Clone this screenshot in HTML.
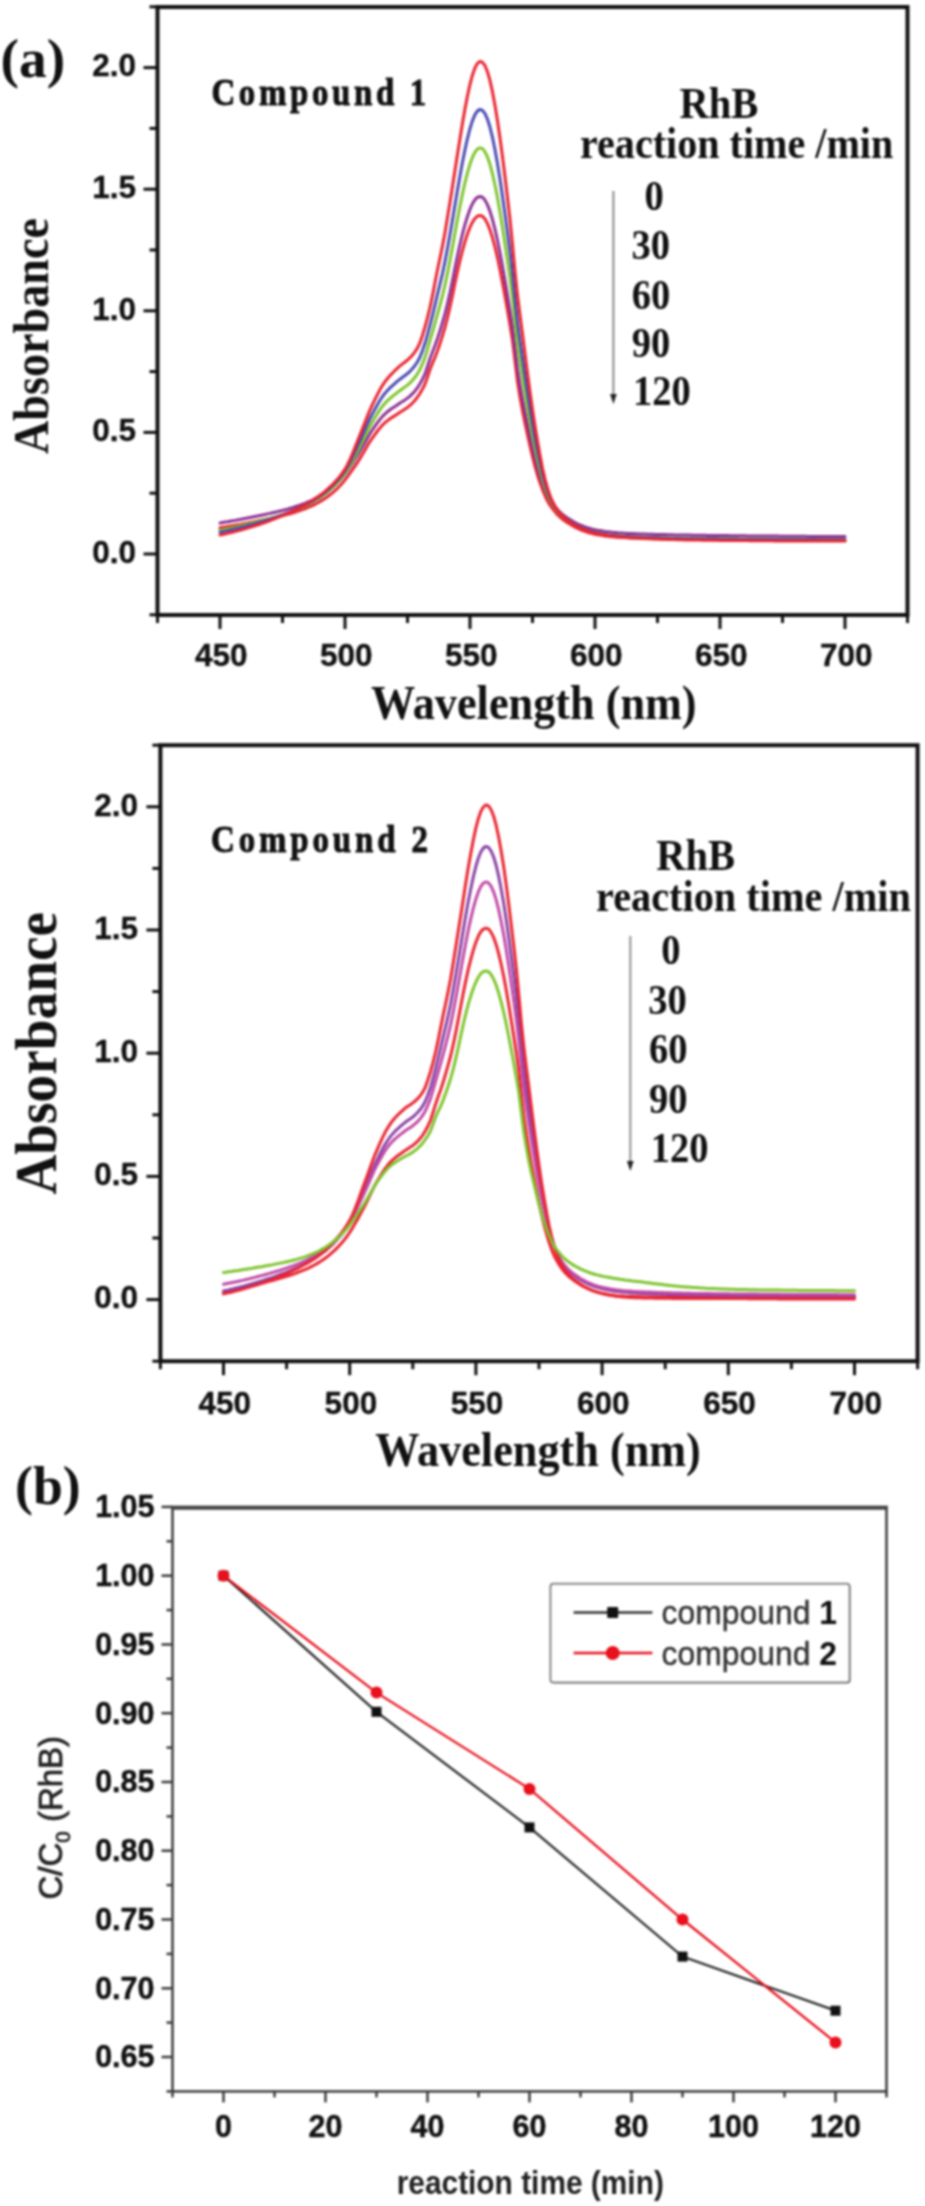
<!DOCTYPE html>
<html><head><meta charset="utf-8">
<style>
html,body{margin:0;padding:0;background:#fff;}
body{width:925px;height:2206px;overflow:hidden;}
svg{display:block;}
#wrap{filter:blur(0.8px);width:925px;height:2206px;}
.tl{font-family:"Liberation Sans",sans-serif;font-weight:bold;font-size:31.5px;fill:#111;stroke:#111;stroke-width:0.35px;}
.tb{font-family:"Liberation Sans",sans-serif;font-weight:bold;font-size:30.5px;fill:#111;stroke:#111;stroke-width:0.4px;}
.ser{font-family:"Liberation Serif",serif;font-weight:bold;fill:#111;}
.sans{font-family:"Liberation Sans",sans-serif;}
.curves path{fill:none;stroke-width:3;stroke-linejoin:round;stroke-linecap:round;}
</style></head>
<body>
<div id="wrap">
<svg width="925" height="2206" viewBox="0 0 925 2206">
<rect width="925" height="2206" fill="#fff"/>
<rect x="157.5" y="7.0" width="750.0" height="608.0" fill="none" stroke="#111" stroke-width="4"/>
<line x1="149.5" y1="614.8" x2="157.5" y2="614.8" stroke="#111" stroke-width="3"/>
<line x1="143.5" y1="554.0" x2="157.5" y2="554.0" stroke="#111" stroke-width="3"/>
<text x="136.0" y="562.8" class="tl" text-anchor="end">0.0</text>
<line x1="149.5" y1="493.2" x2="157.5" y2="493.2" stroke="#111" stroke-width="3"/>
<line x1="143.5" y1="432.4" x2="157.5" y2="432.4" stroke="#111" stroke-width="3"/>
<text x="136.0" y="441.2" class="tl" text-anchor="end">0.5</text>
<line x1="149.5" y1="371.6" x2="157.5" y2="371.6" stroke="#111" stroke-width="3"/>
<line x1="143.5" y1="310.8" x2="157.5" y2="310.8" stroke="#111" stroke-width="3"/>
<text x="136.0" y="319.6" class="tl" text-anchor="end">1.0</text>
<line x1="149.5" y1="250.0" x2="157.5" y2="250.0" stroke="#111" stroke-width="3"/>
<line x1="143.5" y1="189.2" x2="157.5" y2="189.2" stroke="#111" stroke-width="3"/>
<text x="136.0" y="198.0" class="tl" text-anchor="end">1.5</text>
<line x1="149.5" y1="128.4" x2="157.5" y2="128.4" stroke="#111" stroke-width="3"/>
<line x1="143.5" y1="67.6" x2="157.5" y2="67.6" stroke="#111" stroke-width="3"/>
<text x="136.0" y="76.4" class="tl" text-anchor="end">2.0</text>
<line x1="149.5" y1="6.8" x2="157.5" y2="6.8" stroke="#111" stroke-width="3"/>
<line x1="157.5" y1="615.0" x2="157.5" y2="623.0" stroke="#111" stroke-width="3"/>
<line x1="220.0" y1="615.0" x2="220.0" y2="629.0" stroke="#111" stroke-width="3"/>
<text x="221.2" y="665.5" class="tl" text-anchor="middle">450</text>
<line x1="282.5" y1="615.0" x2="282.5" y2="623.0" stroke="#111" stroke-width="3"/>
<line x1="345.0" y1="615.0" x2="345.0" y2="629.0" stroke="#111" stroke-width="3"/>
<text x="346.2" y="665.5" class="tl" text-anchor="middle">500</text>
<line x1="407.5" y1="615.0" x2="407.5" y2="623.0" stroke="#111" stroke-width="3"/>
<line x1="470.0" y1="615.0" x2="470.0" y2="629.0" stroke="#111" stroke-width="3"/>
<text x="471.2" y="665.5" class="tl" text-anchor="middle">550</text>
<line x1="532.5" y1="615.0" x2="532.5" y2="623.0" stroke="#111" stroke-width="3"/>
<line x1="595.0" y1="615.0" x2="595.0" y2="629.0" stroke="#111" stroke-width="3"/>
<text x="596.2" y="665.5" class="tl" text-anchor="middle">600</text>
<line x1="657.5" y1="615.0" x2="657.5" y2="623.0" stroke="#111" stroke-width="3"/>
<line x1="720.0" y1="615.0" x2="720.0" y2="629.0" stroke="#111" stroke-width="3"/>
<text x="721.2" y="665.5" class="tl" text-anchor="middle">650</text>
<line x1="782.5" y1="615.0" x2="782.5" y2="623.0" stroke="#111" stroke-width="3"/>
<line x1="845.0" y1="615.0" x2="845.0" y2="629.0" stroke="#111" stroke-width="3"/>
<text x="846.2" y="665.5" class="tl" text-anchor="middle">700</text>
<line x1="907.5" y1="615.0" x2="907.5" y2="623.0" stroke="#111" stroke-width="3"/>
<g class="curves">
<path d="M220.0 527.7L222.5 527.3L225.0 526.9L227.5 526.5L230.0 526.1L232.5 525.7L235.0 525.3L237.5 524.8L240.0 524.4L242.5 523.9L245.0 523.4L247.5 523.0L250.0 522.5L252.5 522.0L255.0 521.5L257.5 521.0L260.0 520.5L262.5 520.0L265.0 519.5L267.5 519.0L270.0 518.5L272.5 517.9L275.0 517.4L277.5 516.8L280.0 516.2L282.5 515.6L285.0 515.0L287.5 514.4L290.0 513.7L292.5 513.0L295.0 512.2L297.5 511.4L300.0 510.6L302.5 509.7L305.0 508.8L307.5 507.7L310.0 506.7L312.5 505.6L315.0 504.3L317.5 503.0L320.0 501.6L322.5 500.1L325.0 498.4L327.5 496.7L330.0 494.8L332.5 492.8L335.0 490.6L337.5 488.3L340.0 485.8L342.5 483.0L345.0 479.9L347.5 476.6L350.0 473.2L352.5 469.7L355.0 466.1L357.5 462.4L360.0 458.5L362.5 454.3L365.0 449.9L367.5 445.6L370.0 441.5L372.5 437.9L375.0 434.4L377.5 431.0L380.0 427.9L382.5 425.0L385.0 422.6L387.5 420.6L390.0 418.8L392.5 417.1L395.0 415.6L397.5 413.9L400.0 412.2L402.5 410.7L405.0 409.1L407.5 407.4L410.0 405.4L412.5 403.0L415.0 400.3L417.5 397.0L420.0 393.3L422.5 389.1L425.0 384.0L427.5 376.9L430.0 369.5L432.5 363.2L435.0 357.3L437.5 350.7L440.0 343.4L442.5 335.6L445.0 327.2L447.5 317.7L450.0 307.0L452.5 295.5L455.0 283.0L457.5 271.3L460.0 260.4L462.5 250.5L465.0 241.5L467.5 233.8L470.0 227.2L472.5 222.1L475.0 218.3L477.5 216.0L480.0 215.5L482.5 216.2L485.0 219.0L487.5 223.6L490.0 229.9L492.5 237.8L495.0 247.1L497.5 257.8L500.0 269.7L502.5 282.6L505.0 296.2L507.5 310.4L510.0 324.8L512.5 340.4L515.0 361.0L517.5 381.5L520.0 397.1L522.5 410.8L525.0 423.2L527.5 434.8L530.0 445.9L532.5 456.6L535.0 466.4L537.5 475.2L540.0 482.8L542.5 489.6L545.0 495.8L547.5 501.0L550.0 505.1L552.5 508.6L555.0 511.8L557.5 514.7L560.0 517.1L562.5 519.2L565.0 521.0L567.5 522.7L570.0 524.3L572.5 525.8L575.0 527.2L577.5 528.4L580.0 529.5L582.5 530.5L585.0 531.4L587.5 532.3L590.0 533.0L592.5 533.6L595.0 534.2L597.5 534.7L600.0 535.1L602.5 535.5L605.0 535.9L607.5 536.2L610.0 536.5L612.5 536.7L615.0 537.0L617.5 537.2L620.0 537.3L622.5 537.5L625.0 537.6L627.5 537.7L630.0 537.9L632.5 538.0L635.0 538.1L637.5 538.1L640.0 538.2L642.5 538.3L645.0 538.4L647.5 538.5L650.0 538.6L652.5 538.6L655.0 538.7L657.5 538.8L660.0 538.8L662.5 538.9L665.0 538.9L667.5 539.0L670.0 539.0L672.5 539.1L675.0 539.1L677.5 539.2L680.0 539.2L682.5 539.3L685.0 539.3L687.5 539.3L690.0 539.4L692.5 539.4L695.0 539.5L697.5 539.5L700.0 539.5L702.5 539.5L705.0 539.6L707.5 539.6L710.0 539.6L712.5 539.7L715.0 539.7L717.5 539.7L720.0 539.8L722.5 539.8L725.0 539.8L727.5 539.8L730.0 539.9L732.5 539.9L735.0 539.9L737.5 539.9L740.0 540.0L742.5 540.0L745.0 540.0L747.5 540.1L750.0 540.1L752.5 540.1L755.0 540.1L757.5 540.1L760.0 540.2L762.5 540.2L765.0 540.2L767.5 540.2L770.0 540.3L772.5 540.3L775.0 540.3L777.5 540.3L780.0 540.3L782.5 540.4L785.0 540.4L787.5 540.4L790.0 540.4L792.5 540.4L795.0 540.4L797.5 540.5L800.0 540.5L802.5 540.5L805.0 540.5L807.5 540.5L810.0 540.5L812.5 540.5L815.0 540.5L817.5 540.6L820.0 540.6L822.5 540.6L825.0 540.6L827.5 540.6L830.0 540.6L832.5 540.6L835.0 540.6L837.5 540.6L840.0 540.6L842.5 540.6L845.0 540.6" stroke="#ea2430"/>
<path d="M220.0 522.9L222.5 522.5L225.0 522.1L227.5 521.7L230.0 521.2L232.5 520.8L235.0 520.4L237.5 519.9L240.0 519.5L242.5 519.0L245.0 518.5L247.5 518.0L250.0 517.5L252.5 517.0L255.0 516.5L257.5 516.0L260.0 515.5L262.5 515.0L265.0 514.5L267.5 513.9L270.0 513.4L272.5 512.8L275.0 512.2L277.5 511.6L280.0 511.0L282.5 510.4L285.0 509.7L287.5 509.1L290.0 508.3L292.5 507.6L295.0 506.8L297.5 506.0L300.0 505.1L302.5 504.2L305.0 503.3L307.5 502.2L310.0 501.1L312.5 500.0L315.0 498.7L317.5 497.4L320.0 495.9L322.5 494.4L325.0 492.7L327.5 490.9L330.0 489.0L332.5 486.9L335.0 484.8L337.5 482.4L340.0 479.8L342.5 477.0L345.0 473.9L347.5 470.5L350.0 466.9L352.5 463.1L355.0 459.3L357.5 455.4L360.0 451.3L362.5 446.9L365.0 442.4L367.5 437.9L370.0 433.6L372.5 429.8L375.0 426.2L377.5 422.7L380.0 419.4L382.5 416.4L385.0 413.9L387.5 411.7L390.0 409.8L392.5 408.1L395.0 406.5L397.5 404.8L400.0 403.0L402.5 401.5L405.0 399.9L407.5 398.1L410.0 396.1L412.5 393.7L415.0 390.9L417.5 387.6L420.0 383.8L422.5 379.2L425.0 373.9L427.5 366.5L430.0 358.8L432.5 352.1L435.0 345.5L437.5 338.4L440.0 330.7L442.5 322.5L445.0 313.6L447.5 303.7L450.0 292.5L452.5 280.6L455.0 267.8L457.5 255.7L460.0 244.3L462.5 233.9L465.0 224.4L467.5 216.2L470.0 209.2L472.5 203.7L475.0 199.6L477.5 197.2L480.0 196.5L482.5 197.2L485.0 200.1L487.5 204.9L490.0 211.4L492.5 219.6L495.0 229.3L497.5 240.5L500.0 252.9L502.5 266.3L505.0 280.5L507.5 295.3L510.0 310.5L512.5 326.9L515.0 348.2L517.5 369.0L520.0 385.0L522.5 399.2L525.0 412.3L527.5 424.6L530.0 436.5L532.5 447.7L535.0 458.2L537.5 467.5L540.0 475.7L542.5 483.2L545.0 489.7L547.5 495.3L550.0 499.7L552.5 503.5L555.0 506.8L557.5 509.8L560.0 512.2L562.5 514.4L565.0 516.3L567.5 518.0L570.0 519.6L572.5 521.1L575.0 522.5L577.5 523.8L580.0 524.9L582.5 525.9L585.0 526.9L587.5 527.7L590.0 528.4L592.5 529.1L595.0 529.7L597.5 530.2L600.0 530.6L602.5 531.0L605.0 531.4L607.5 531.7L610.0 532.0L612.5 532.3L615.0 532.5L617.5 532.8L620.0 532.9L622.5 533.1L625.0 533.2L627.5 533.4L630.0 533.5L632.5 533.6L635.0 533.7L637.5 533.8L640.0 533.9L642.5 534.0L645.0 534.1L647.5 534.2L650.0 534.2L652.5 534.3L655.0 534.4L657.5 534.5L660.0 534.5L662.5 534.6L665.0 534.6L667.5 534.7L670.0 534.8L672.5 534.8L675.0 534.9L677.5 534.9L680.0 535.0L682.5 535.0L685.0 535.1L687.5 535.1L690.0 535.1L692.5 535.2L695.0 535.2L697.5 535.2L700.0 535.3L702.5 535.3L705.0 535.3L707.5 535.4L710.0 535.4L712.5 535.4L715.0 535.5L717.5 535.5L720.0 535.5L722.5 535.6L725.0 535.6L727.5 535.6L730.0 535.7L732.5 535.7L735.0 535.7L737.5 535.7L740.0 535.8L742.5 535.8L745.0 535.8L747.5 535.9L750.0 535.9L752.5 535.9L755.0 535.9L757.5 536.0L760.0 536.0L762.5 536.0L765.0 536.0L767.5 536.1L770.0 536.1L772.5 536.1L775.0 536.1L777.5 536.1L780.0 536.2L782.5 536.2L785.0 536.2L787.5 536.2L790.0 536.2L792.5 536.3L795.0 536.3L797.5 536.3L800.0 536.3L802.5 536.3L805.0 536.3L807.5 536.4L810.0 536.4L812.5 536.4L815.0 536.4L817.5 536.4L820.0 536.4L822.5 536.4L825.0 536.4L827.5 536.4L830.0 536.5L832.5 536.5L835.0 536.5L837.5 536.5L840.0 536.5L842.5 536.5L845.0 536.5" stroke="#8e3194"/>
<path d="M220.0 530.2L222.5 529.7L225.0 529.2L227.5 528.7L230.0 528.2L232.5 527.7L235.0 527.1L237.5 526.6L240.0 526.0L242.5 525.5L245.0 524.9L247.5 524.3L250.0 523.7L252.5 523.0L255.0 522.4L257.5 521.8L260.0 521.1L262.5 520.5L265.0 519.8L267.5 519.1L270.0 518.4L272.5 517.7L275.0 517.0L277.5 516.2L280.0 515.4L282.5 514.6L285.0 513.8L287.5 513.0L290.0 512.1L292.5 511.2L295.0 510.2L297.5 509.2L300.0 508.2L302.5 507.1L305.0 506.0L307.5 504.8L310.0 503.5L312.5 502.2L315.0 500.8L317.5 499.3L320.0 497.7L322.5 495.9L325.0 494.1L327.5 492.1L330.0 490.0L332.5 487.7L335.0 485.4L337.5 482.8L340.0 480.0L342.5 476.8L345.0 473.4L347.5 469.6L350.0 465.4L352.5 460.9L355.0 456.2L357.5 451.5L360.0 446.7L362.5 441.6L365.0 436.3L367.5 431.1L370.0 426.2L372.5 421.7L375.0 417.5L377.5 413.4L380.0 409.6L382.5 406.2L385.0 403.2L387.5 400.6L390.0 398.4L392.5 396.3L395.0 394.4L397.5 392.4L400.0 390.5L402.5 388.7L405.0 386.9L407.5 385.1L410.0 382.9L412.5 380.3L415.0 377.3L417.5 373.7L420.0 369.3L422.5 363.7L425.0 357.3L427.5 349.1L430.0 340.4L432.5 332.0L435.0 323.2L437.5 314.2L440.0 305.1L442.5 295.5L445.0 284.9L447.5 273.1L450.0 260.3L452.5 246.9L455.0 232.7L457.5 219.0L460.0 206.0L462.5 193.7L465.0 182.5L467.5 172.6L470.0 164.1L472.5 157.2L475.0 152.1L477.5 148.9L480.0 147.9L482.5 148.6L485.0 151.8L487.5 157.1L490.0 164.5L492.5 173.9L495.0 185.0L497.5 197.8L500.0 212.0L502.5 227.4L505.0 243.8L507.5 260.9L510.0 278.4L512.5 298.1L515.0 321.7L517.5 344.1L520.0 361.8L522.5 377.8L525.0 393.2L527.5 408.1L530.0 422.3L532.5 435.8L535.0 448.3L537.5 459.6L540.0 469.9L542.5 479.2L545.0 487.2L547.5 493.9L550.0 499.4L552.5 504.0L555.0 507.7L557.5 511.0L560.0 513.8L562.5 516.2L565.0 518.2L567.5 520.1L570.0 521.8L572.5 523.5L575.0 524.9L577.5 526.3L580.0 527.5L582.5 528.5L585.0 529.5L587.5 530.4L590.0 531.2L592.5 531.9L595.0 532.5L597.5 533.0L600.0 533.5L602.5 533.9L605.0 534.3L607.5 534.7L610.0 535.0L612.5 535.3L615.0 535.6L617.5 535.8L620.0 536.0L622.5 536.1L625.0 536.3L627.5 536.4L630.0 536.6L632.5 536.7L635.0 536.8L637.5 536.9L640.0 537.0L642.5 537.1L645.0 537.2L647.5 537.3L650.0 537.4L652.5 537.5L655.0 537.5L657.5 537.6L660.0 537.7L662.5 537.8L665.0 537.8L667.5 537.9L670.0 537.9L672.5 538.0L675.0 538.0L677.5 538.1L680.0 538.1L682.5 538.2L685.0 538.2L687.5 538.3L690.0 538.3L692.5 538.3L695.0 538.4L697.5 538.4L700.0 538.4L702.5 538.5L705.0 538.5L707.5 538.5L710.0 538.6L712.5 538.6L715.0 538.6L717.5 538.6L720.0 538.7L722.5 538.7L725.0 538.7L727.5 538.7L730.0 538.8L732.5 538.8L735.0 538.8L737.5 538.8L740.0 538.9L742.5 538.9L745.0 538.9L747.5 538.9L750.0 539.0L752.5 539.0L755.0 539.0L757.5 539.0L760.0 539.0L762.5 539.1L765.0 539.1L767.5 539.1L770.0 539.1L772.5 539.1L775.0 539.2L777.5 539.2L780.0 539.2L782.5 539.2L785.0 539.2L787.5 539.2L790.0 539.3L792.5 539.3L795.0 539.3L797.5 539.3L800.0 539.3L802.5 539.3L805.0 539.3L807.5 539.3L810.0 539.3L812.5 539.4L815.0 539.4L817.5 539.4L820.0 539.4L822.5 539.4L825.0 539.4L827.5 539.4L830.0 539.4L832.5 539.4L835.0 539.4L837.5 539.4L840.0 539.4L842.5 539.4L845.0 539.4" stroke="#7ec42e"/>
<path d="M220.0 532.1L222.5 531.6L225.0 531.1L227.5 530.6L230.0 530.0L232.5 529.5L235.0 528.9L237.5 528.3L240.0 527.7L242.5 527.0L245.0 526.4L247.5 525.7L250.0 525.0L252.5 524.4L255.0 523.7L257.5 522.9L260.0 522.2L262.5 521.5L265.0 520.7L267.5 519.9L270.0 519.1L272.5 518.3L275.0 517.5L277.5 516.6L280.0 515.7L282.5 514.8L285.0 513.9L287.5 512.9L290.0 511.9L292.5 510.9L295.0 509.9L297.5 508.8L300.0 507.6L302.5 506.5L305.0 505.2L307.5 503.9L310.0 502.6L312.5 501.2L315.0 499.6L317.5 498.0L320.0 496.3L322.5 494.5L325.0 492.6L327.5 490.5L330.0 488.3L332.5 485.9L335.0 483.4L337.5 480.8L340.0 477.8L342.5 474.6L345.0 471.0L347.5 466.9L350.0 462.3L352.5 457.2L355.0 451.8L357.5 446.4L360.0 441.1L362.5 435.4L365.0 429.6L367.5 423.9L370.0 418.5L372.5 413.6L375.0 409.0L377.5 404.5L380.0 400.3L382.5 396.5L385.0 393.2L387.5 390.4L390.0 387.9L392.5 385.6L395.0 383.4L397.5 381.2L400.0 379.2L402.5 377.3L405.0 375.5L407.5 373.5L410.0 371.3L412.5 368.6L415.0 365.5L417.5 361.7L420.0 357.0L422.5 350.6L425.0 343.3L427.5 334.7L430.0 325.2L432.5 315.4L435.0 304.8L437.5 294.2L440.0 283.9L442.5 273.3L445.0 261.4L447.5 248.2L450.0 234.3L452.5 219.8L455.0 204.7L457.5 190.0L460.0 175.7L462.5 162.1L465.0 149.6L467.5 138.3L470.0 128.5L472.5 120.6L475.0 114.6L477.5 110.9L480.0 109.4L482.5 110.3L485.0 113.6L487.5 119.3L490.0 127.3L492.5 137.5L495.0 149.7L497.5 163.7L500.0 179.3L502.5 196.2L505.0 214.1L507.5 232.9L510.0 252.2L512.5 274.3L515.0 299.5L517.5 322.7L520.0 341.4L522.5 358.7L525.0 376.0L527.5 392.9L530.0 408.9L532.5 424.2L535.0 438.4L537.5 451.3L540.0 463.3L542.5 474.1L545.0 483.3L547.5 491.0L550.0 497.4L552.5 502.6L555.0 506.6L557.5 510.2L560.0 513.1L562.5 515.6L565.0 517.8L567.5 519.8L570.0 521.6L572.5 523.2L575.0 524.8L577.5 526.1L580.0 527.4L582.5 528.5L585.0 529.5L587.5 530.4L590.0 531.2L592.5 531.9L595.0 532.5L597.5 533.1L600.0 533.6L602.5 534.1L605.0 534.5L607.5 534.9L610.0 535.2L612.5 535.5L615.0 535.8L617.5 536.0L620.0 536.2L622.5 536.4L625.0 536.6L627.5 536.7L630.0 536.9L632.5 537.0L635.0 537.1L637.5 537.2L640.0 537.3L642.5 537.5L645.0 537.6L647.5 537.7L650.0 537.8L652.5 537.8L655.0 537.9L657.5 538.0L660.0 538.1L662.5 538.2L665.0 538.3L667.5 538.3L670.0 538.4L672.5 538.4L675.0 538.5L677.5 538.6L680.0 538.6L682.5 538.7L685.0 538.7L687.5 538.8L690.0 538.8L692.5 538.8L695.0 538.9L697.5 538.9L700.0 538.9L702.5 539.0L705.0 539.0L707.5 539.0L710.0 539.1L712.5 539.1L715.0 539.1L717.5 539.1L720.0 539.2L722.5 539.2L725.0 539.2L727.5 539.2L730.0 539.3L732.5 539.3L735.0 539.3L737.5 539.3L740.0 539.4L742.5 539.4L745.0 539.4L747.5 539.4L750.0 539.5L752.5 539.5L755.0 539.5L757.5 539.5L760.0 539.5L762.5 539.6L765.0 539.6L767.5 539.6L770.0 539.6L772.5 539.6L775.0 539.6L777.5 539.7L780.0 539.7L782.5 539.7L785.0 539.7L787.5 539.7L790.0 539.7L792.5 539.8L795.0 539.8L797.5 539.8L800.0 539.8L802.5 539.8L805.0 539.8L807.5 539.8L810.0 539.8L812.5 539.8L815.0 539.8L817.5 539.9L820.0 539.9L822.5 539.9L825.0 539.9L827.5 539.9L830.0 539.9L832.5 539.9L835.0 539.9L837.5 539.9L840.0 539.9L842.5 539.9L845.0 539.9" stroke="#4a4bb4"/>
<path d="M220.0 535.0L222.5 534.5L225.0 534.0L227.5 533.4L230.0 532.8L232.5 532.2L235.0 531.6L237.5 530.9L240.0 530.2L242.5 529.6L245.0 528.8L247.5 528.1L250.0 527.4L252.5 526.6L255.0 525.8L257.5 525.0L260.0 524.2L262.5 523.3L265.0 522.5L267.5 521.6L270.0 520.6L272.5 519.7L275.0 518.7L277.5 517.7L280.0 516.7L282.5 515.6L285.0 514.5L287.5 513.4L290.0 512.3L292.5 511.2L295.0 510.0L297.5 508.8L300.0 507.5L302.5 506.2L305.0 504.9L307.5 503.5L310.0 502.0L312.5 500.5L315.0 498.8L317.5 497.1L320.0 495.3L322.5 493.4L325.0 491.4L327.5 489.2L330.0 486.9L332.5 484.5L335.0 481.9L337.5 479.1L340.0 476.1L342.5 472.7L345.0 469.0L347.5 464.7L350.0 459.4L352.5 453.5L355.0 447.3L357.5 441.0L360.0 434.9L362.5 428.6L365.0 422.2L367.5 415.9L370.0 409.9L372.5 404.4L375.0 399.3L377.5 394.3L380.0 389.6L382.5 385.3L385.0 381.7L387.5 378.5L390.0 375.6L392.5 373.0L395.0 370.5L397.5 368.1L400.0 365.9L402.5 363.9L405.0 362.0L407.5 360.0L410.0 357.7L412.5 355.0L415.0 351.8L417.5 347.9L420.0 342.7L422.5 335.2L425.0 326.9L427.5 317.7L430.0 307.4L432.5 295.6L435.0 282.5L437.5 269.8L440.0 258.0L442.5 245.9L445.0 232.4L447.5 217.3L450.0 202.1L452.5 186.3L455.0 170.3L457.5 154.2L460.0 138.4L462.5 123.1L465.0 108.8L467.5 95.7L470.0 84.3L472.5 74.9L475.0 67.8L477.5 63.3L480.0 61.3L482.5 62.3L485.0 65.7L487.5 71.9L490.0 80.7L492.5 91.9L495.0 105.4L497.5 120.9L500.0 138.1L502.5 156.8L505.0 176.8L507.5 197.7L510.0 219.3L512.5 244.7L515.0 271.6L517.5 295.5L520.0 315.3L522.5 334.1L525.0 353.8L527.5 373.5L530.0 392.0L532.5 409.6L535.0 426.0L537.5 440.9L540.0 455.3L542.5 468.3L545.0 479.1L547.5 488.0L550.0 495.6L552.5 501.6L555.0 506.1L557.5 509.9L560.0 513.0L562.5 515.7L565.0 518.1L567.5 520.1L570.0 522.0L572.5 523.7L575.0 525.2L577.5 526.6L580.0 527.8L582.5 529.0L585.0 530.0L587.5 530.9L590.0 531.8L592.5 532.5L595.0 533.1L597.5 533.7L600.0 534.3L602.5 534.8L605.0 535.2L607.5 535.6L610.0 536.0L612.5 536.3L615.0 536.6L617.5 536.8L620.0 537.0L622.5 537.2L625.0 537.4L627.5 537.6L630.0 537.7L632.5 537.9L635.0 538.0L637.5 538.2L640.0 538.3L642.5 538.4L645.0 538.5L647.5 538.7L650.0 538.8L652.5 538.9L655.0 539.0L657.5 539.1L660.0 539.2L662.5 539.3L665.0 539.3L667.5 539.4L670.0 539.5L672.5 539.6L675.0 539.6L677.5 539.7L680.0 539.8L682.5 539.8L685.0 539.9L687.5 539.9L690.0 540.0L692.5 540.0L695.0 540.0L697.5 540.1L700.0 540.1L702.5 540.2L705.0 540.2L707.5 540.2L710.0 540.2L712.5 540.3L715.0 540.3L717.5 540.3L720.0 540.4L722.5 540.4L725.0 540.4L727.5 540.4L730.0 540.5L732.5 540.5L735.0 540.5L737.5 540.5L740.0 540.6L742.5 540.6L745.0 540.6L747.5 540.6L750.0 540.7L752.5 540.7L755.0 540.7L757.5 540.7L760.0 540.7L762.5 540.8L765.0 540.8L767.5 540.8L770.0 540.8L772.5 540.8L775.0 540.9L777.5 540.9L780.0 540.9L782.5 540.9L785.0 540.9L787.5 540.9L790.0 540.9L792.5 541.0L795.0 541.0L797.5 541.0L800.0 541.0L802.5 541.0L805.0 541.0L807.5 541.0L810.0 541.0L812.5 541.1L815.0 541.1L817.5 541.1L820.0 541.1L822.5 541.1L825.0 541.1L827.5 541.1L830.0 541.1L832.5 541.1L835.0 541.1L837.5 541.1L840.0 541.1L842.5 541.1L845.0 541.1" stroke="#ea2430"/>
</g>
<line x1="613.4" y1="191" x2="613.4" y2="396" stroke="#888" stroke-width="2"/>
<path d="M610 394 L616.8 394 L613.4 404 Z" fill="#222"/>
<rect x="160.4" y="745.2" width="757.2" height="616.0" fill="none" stroke="#111" stroke-width="4"/>
<line x1="152.4" y1="1361.2" x2="160.4" y2="1361.2" stroke="#111" stroke-width="3"/>
<line x1="146.4" y1="1299.6" x2="160.4" y2="1299.6" stroke="#111" stroke-width="3"/>
<text x="138.0" y="1308.4" class="tl" text-anchor="end">0.0</text>
<line x1="152.4" y1="1238.0" x2="160.4" y2="1238.0" stroke="#111" stroke-width="3"/>
<line x1="146.4" y1="1176.4" x2="160.4" y2="1176.4" stroke="#111" stroke-width="3"/>
<text x="138.0" y="1185.2" class="tl" text-anchor="end">0.5</text>
<line x1="152.4" y1="1114.8" x2="160.4" y2="1114.8" stroke="#111" stroke-width="3"/>
<line x1="146.4" y1="1053.2" x2="160.4" y2="1053.2" stroke="#111" stroke-width="3"/>
<text x="138.0" y="1062.0" class="tl" text-anchor="end">1.0</text>
<line x1="152.4" y1="991.6" x2="160.4" y2="991.6" stroke="#111" stroke-width="3"/>
<line x1="146.4" y1="930.0" x2="160.4" y2="930.0" stroke="#111" stroke-width="3"/>
<text x="138.0" y="938.8" class="tl" text-anchor="end">1.5</text>
<line x1="152.4" y1="868.4" x2="160.4" y2="868.4" stroke="#111" stroke-width="3"/>
<line x1="146.4" y1="806.8" x2="160.4" y2="806.8" stroke="#111" stroke-width="3"/>
<text x="138.0" y="815.6" class="tl" text-anchor="end">2.0</text>
<line x1="152.4" y1="745.2" x2="160.4" y2="745.2" stroke="#111" stroke-width="3"/>
<line x1="160.4" y1="1361.2" x2="160.4" y2="1369.2" stroke="#111" stroke-width="3"/>
<line x1="223.5" y1="1361.2" x2="223.5" y2="1375.2" stroke="#111" stroke-width="3"/>
<text x="224.7" y="1413.5" class="tl" text-anchor="middle">450</text>
<line x1="286.6" y1="1361.2" x2="286.6" y2="1369.2" stroke="#111" stroke-width="3"/>
<line x1="349.7" y1="1361.2" x2="349.7" y2="1375.2" stroke="#111" stroke-width="3"/>
<text x="350.9" y="1413.5" class="tl" text-anchor="middle">500</text>
<line x1="412.8" y1="1361.2" x2="412.8" y2="1369.2" stroke="#111" stroke-width="3"/>
<line x1="475.9" y1="1361.2" x2="475.9" y2="1375.2" stroke="#111" stroke-width="3"/>
<text x="477.1" y="1413.5" class="tl" text-anchor="middle">550</text>
<line x1="539.0" y1="1361.2" x2="539.0" y2="1369.2" stroke="#111" stroke-width="3"/>
<line x1="602.1" y1="1361.2" x2="602.1" y2="1375.2" stroke="#111" stroke-width="3"/>
<text x="603.3" y="1413.5" class="tl" text-anchor="middle">600</text>
<line x1="665.2" y1="1361.2" x2="665.2" y2="1369.2" stroke="#111" stroke-width="3"/>
<line x1="728.3" y1="1361.2" x2="728.3" y2="1375.2" stroke="#111" stroke-width="3"/>
<text x="729.5" y="1413.5" class="tl" text-anchor="middle">650</text>
<line x1="791.4" y1="1361.2" x2="791.4" y2="1369.2" stroke="#111" stroke-width="3"/>
<line x1="854.5" y1="1361.2" x2="854.5" y2="1375.2" stroke="#111" stroke-width="3"/>
<text x="855.7" y="1413.5" class="tl" text-anchor="middle">700</text>
<line x1="917.6" y1="1361.2" x2="917.6" y2="1369.2" stroke="#111" stroke-width="3"/>
<g class="curves">
<path d="M223.5 1292.2L226.0 1291.7L228.5 1291.2L231.1 1290.6L233.6 1290.1L236.1 1289.5L238.6 1288.9L241.2 1288.3L243.7 1287.8L246.2 1287.2L248.7 1286.6L251.3 1285.9L253.8 1285.3L256.3 1284.7L258.8 1284.0L261.4 1283.4L263.9 1282.7L266.4 1282.1L268.9 1281.4L271.5 1280.7L274.0 1280.0L276.5 1279.3L279.0 1278.6L281.6 1277.9L284.1 1277.1L286.6 1276.3L289.1 1275.5L291.6 1274.7L294.2 1273.8L296.7 1272.9L299.2 1271.9L301.7 1270.9L304.3 1269.9L306.8 1268.8L309.3 1267.6L311.8 1266.3L314.4 1265.0L316.9 1263.6L319.4 1262.1L321.9 1260.5L324.5 1258.7L327.0 1256.9L329.5 1254.8L332.0 1252.7L334.6 1250.4L337.1 1247.9L339.6 1245.3L342.1 1242.5L344.7 1239.4L347.2 1236.0L349.7 1232.4L352.2 1228.4L354.7 1224.1L357.3 1219.7L359.8 1215.1L362.3 1210.5L364.8 1205.7L367.4 1200.6L369.9 1195.3L372.4 1190.1L374.9 1185.1L377.5 1180.7L380.0 1176.5L382.5 1172.4L385.0 1168.7L387.6 1165.3L390.1 1162.3L392.6 1159.9L395.1 1157.8L397.7 1155.8L400.2 1154.0L402.7 1152.2L405.2 1150.4L407.8 1148.7L410.3 1147.1L412.8 1145.4L415.3 1143.4L417.8 1141.0L420.4 1138.1L422.9 1134.8L425.4 1130.8L427.9 1126.0L430.5 1120.3L433.0 1112.5L435.5 1104.4L438.0 1097.1L440.6 1089.9L443.1 1082.2L445.6 1073.9L448.1 1065.2L450.7 1055.5L453.2 1044.7L455.7 1032.7L458.2 1019.8L460.8 1006.0L463.3 992.9L465.8 980.6L468.3 969.2L470.9 958.9L473.4 949.9L475.9 942.2L478.4 936.1L480.9 931.6L483.5 928.9L486.0 928.2L488.5 928.9L491.0 932.1L493.6 937.3L496.1 944.4L498.6 953.4L501.1 964.0L503.7 976.2L506.2 989.8L508.7 1004.4L511.2 1020.0L513.8 1036.3L516.3 1052.8L518.8 1071.0L521.3 1094.1L523.9 1116.6L526.4 1134.0L528.9 1149.5L531.4 1163.9L534.0 1177.5L536.5 1190.6L539.0 1203.0L541.5 1214.5L544.0 1224.9L546.6 1234.0L549.1 1242.3L551.6 1249.6L554.1 1255.7L556.7 1260.6L559.2 1264.8L561.7 1268.5L564.2 1271.7L566.8 1274.4L569.3 1276.8L571.8 1278.9L574.3 1280.7L576.9 1282.5L579.4 1284.1L581.9 1285.6L584.4 1287.0L587.0 1288.2L589.5 1289.3L592.0 1290.3L594.5 1291.2L597.1 1292.0L599.6 1292.7L602.1 1293.3L604.6 1293.8L607.1 1294.3L609.7 1294.7L612.2 1295.0L614.7 1295.4L617.2 1295.7L619.8 1295.9L622.3 1296.1L624.8 1296.3L627.3 1296.4L629.9 1296.5L632.4 1296.6L634.9 1296.7L637.4 1296.8L640.0 1296.8L642.5 1296.9L645.0 1296.9L647.5 1297.0L650.1 1297.0L652.6 1297.1L655.1 1297.1L657.6 1297.1L660.2 1297.1L662.7 1297.1L665.2 1297.2L667.7 1297.2L670.2 1297.2L672.8 1297.2L675.3 1297.2L677.8 1297.2L680.3 1297.2L682.9 1297.2L685.4 1297.2L687.9 1297.2L690.4 1297.2L693.0 1297.2L695.5 1297.2L698.0 1297.2L700.5 1297.2L703.1 1297.2L705.6 1297.3L708.1 1297.3L710.6 1297.3L713.2 1297.3L715.7 1297.3L718.2 1297.3L720.7 1297.3L723.3 1297.3L725.8 1297.3L728.3 1297.3L730.8 1297.3L733.3 1297.3L735.9 1297.3L738.4 1297.4L740.9 1297.4L743.4 1297.4L746.0 1297.4L748.5 1297.4L751.0 1297.4L753.5 1297.4L756.1 1297.4L758.6 1297.5L761.1 1297.5L763.6 1297.5L766.2 1297.5L768.7 1297.5L771.2 1297.5L773.7 1297.5L776.3 1297.5L778.8 1297.5L781.3 1297.6L783.8 1297.6L786.4 1297.6L788.9 1297.6L791.4 1297.6L793.9 1297.6L796.4 1297.6L799.0 1297.6L801.5 1297.6L804.0 1297.6L806.5 1297.6L809.1 1297.6L811.6 1297.6L814.1 1297.6L816.6 1297.7L819.2 1297.7L821.7 1297.7L824.2 1297.7L826.7 1297.7L829.3 1297.7L831.8 1297.7L834.3 1297.7L836.8 1297.7L839.4 1297.7L841.9 1297.7L844.4 1297.7L846.9 1297.6L849.5 1297.6L852.0 1297.6L854.5 1297.6" stroke="#ea2430"/>
<path d="M223.5 1291.0L226.0 1290.4L228.5 1289.9L231.1 1289.3L233.6 1288.7L236.1 1288.0L238.6 1287.4L241.2 1286.7L243.7 1286.1L246.2 1285.4L248.7 1284.7L251.3 1284.0L253.8 1283.2L256.3 1282.5L258.8 1281.7L261.4 1280.9L263.9 1280.1L266.4 1279.3L268.9 1278.5L271.5 1277.7L274.0 1276.8L276.5 1275.9L279.0 1275.0L281.6 1274.0L284.1 1273.1L286.6 1272.1L289.1 1271.1L291.6 1270.0L294.2 1268.9L296.7 1267.8L299.2 1266.7L301.7 1265.5L304.3 1264.2L306.8 1262.9L309.3 1261.5L311.8 1260.1L314.4 1258.6L316.9 1257.0L319.4 1255.3L321.9 1253.4L324.5 1251.5L327.0 1249.4L329.5 1247.2L332.0 1244.8L334.6 1242.3L337.1 1239.6L339.6 1236.8L342.1 1233.7L344.7 1230.4L347.2 1226.7L349.7 1222.6L352.2 1218.1L354.7 1212.9L357.3 1207.2L359.8 1201.3L362.3 1195.3L364.8 1189.3L367.4 1183.1L369.9 1176.7L372.4 1170.4L374.9 1164.5L377.5 1159.1L380.0 1154.0L382.5 1149.1L385.0 1144.6L387.6 1140.5L390.1 1136.9L392.6 1133.9L395.1 1131.2L397.7 1128.8L400.2 1126.5L402.7 1124.4L405.2 1122.3L407.8 1120.5L410.3 1118.8L412.8 1117.0L415.3 1114.8L417.8 1112.3L420.4 1109.3L422.9 1105.7L425.4 1101.0L427.9 1094.7L430.5 1087.4L433.0 1078.6L435.5 1069.1L438.0 1059.0L440.6 1048.2L443.1 1037.4L445.6 1026.8L448.1 1015.9L450.7 1003.8L453.2 990.1L455.7 975.8L458.2 960.9L460.8 945.3L463.3 930.1L465.8 915.3L468.3 901.2L470.9 888.2L473.4 876.4L475.9 866.3L478.4 858.0L480.9 851.8L483.5 847.9L486.0 846.4L488.5 847.4L491.0 850.8L493.6 856.8L496.1 865.2L498.6 875.9L501.1 888.7L503.7 903.3L506.2 919.6L508.7 937.2L511.2 956.0L513.8 975.6L516.3 995.8L518.8 1019.0L521.3 1045.3L523.9 1069.4L526.4 1088.9L528.9 1106.9L531.4 1125.0L534.0 1142.8L536.5 1159.6L539.0 1175.6L541.5 1190.4L544.0 1203.9L546.6 1216.5L549.1 1227.9L551.6 1237.5L554.1 1245.5L556.7 1252.2L559.2 1257.6L561.7 1261.9L564.2 1265.6L566.8 1268.6L569.3 1271.3L571.8 1273.6L574.3 1275.6L576.9 1277.4L579.4 1279.2L581.9 1280.7L584.4 1282.2L587.0 1283.4L589.5 1284.6L592.0 1285.6L594.5 1286.5L597.1 1287.4L599.6 1288.1L602.1 1288.8L604.6 1289.3L607.1 1289.9L609.7 1290.3L612.2 1290.8L614.7 1291.2L617.2 1291.5L619.8 1291.8L622.3 1292.1L624.8 1292.3L627.3 1292.5L629.9 1292.7L632.4 1292.9L634.9 1293.0L637.4 1293.2L640.0 1293.3L642.5 1293.4L645.0 1293.5L647.5 1293.7L650.1 1293.8L652.6 1293.9L655.1 1294.0L657.6 1294.1L660.2 1294.1L662.7 1294.2L665.2 1294.3L667.7 1294.4L670.2 1294.5L672.8 1294.5L675.3 1294.6L677.8 1294.7L680.3 1294.7L682.9 1294.8L685.4 1294.8L687.9 1294.9L690.4 1294.9L693.0 1295.0L695.5 1295.0L698.0 1295.0L700.5 1295.1L703.1 1295.1L705.6 1295.1L708.1 1295.2L710.6 1295.2L713.2 1295.2L715.7 1295.2L718.2 1295.3L720.7 1295.3L723.3 1295.3L725.8 1295.3L728.3 1295.4L730.8 1295.4L733.3 1295.4L735.9 1295.4L738.4 1295.4L740.9 1295.5L743.4 1295.5L746.0 1295.5L748.5 1295.5L751.0 1295.5L753.5 1295.6L756.1 1295.6L758.6 1295.6L761.1 1295.6L763.6 1295.6L766.2 1295.7L768.7 1295.7L771.2 1295.7L773.7 1295.7L776.3 1295.7L778.8 1295.7L781.3 1295.7L783.8 1295.8L786.4 1295.8L788.9 1295.8L791.4 1295.8L793.9 1295.8L796.4 1295.8L799.0 1295.8L801.5 1295.8L804.0 1295.9L806.5 1295.9L809.1 1295.9L811.6 1295.9L814.1 1295.9L816.6 1295.9L819.2 1295.9L821.7 1295.9L824.2 1295.9L826.7 1295.9L829.3 1295.9L831.8 1295.9L834.3 1295.9L836.8 1295.9L839.4 1295.9L841.9 1295.9L844.4 1295.9L846.9 1295.9L849.5 1295.9L852.0 1295.9L854.5 1295.9" stroke="#8a43a6"/>
<path d="M223.5 1284.3L226.0 1283.8L228.5 1283.3L231.1 1282.8L233.6 1282.3L236.1 1281.8L238.6 1281.2L241.2 1280.6L243.7 1280.1L246.2 1279.5L248.7 1278.9L251.3 1278.2L253.8 1277.6L256.3 1277.0L258.8 1276.3L261.4 1275.6L263.9 1275.0L266.4 1274.3L268.9 1273.6L271.5 1272.8L274.0 1272.1L276.5 1271.3L279.0 1270.6L281.6 1269.8L284.1 1268.9L286.6 1268.1L289.1 1267.2L291.6 1266.3L294.2 1265.4L296.7 1264.4L299.2 1263.4L301.7 1262.3L304.3 1261.2L306.8 1260.0L309.3 1258.7L311.8 1257.4L314.4 1256.0L316.9 1254.6L319.4 1253.0L321.9 1251.3L324.5 1249.4L327.0 1247.5L329.5 1245.4L332.0 1243.1L334.6 1240.7L337.1 1238.2L339.6 1235.5L342.1 1232.6L344.7 1229.3L347.2 1225.8L349.7 1222.0L352.2 1217.7L354.7 1213.0L357.3 1207.9L359.8 1202.6L362.3 1197.3L364.8 1191.9L367.4 1186.2L369.9 1180.3L372.4 1174.6L374.9 1169.1L377.5 1164.2L380.0 1159.6L382.5 1155.1L385.0 1150.9L387.6 1147.2L390.1 1143.9L392.6 1141.2L395.1 1138.8L397.7 1136.7L400.2 1134.7L402.7 1132.7L405.2 1130.8L407.8 1129.1L410.3 1127.5L412.8 1125.7L415.3 1123.7L417.8 1121.3L420.4 1118.4L422.9 1115.0L425.4 1110.7L427.9 1105.1L430.5 1098.6L433.0 1090.4L435.5 1081.6L438.0 1072.9L440.6 1063.9L443.1 1054.6L445.6 1045.2L448.1 1035.4L450.7 1024.4L453.2 1012.2L455.7 999.0L458.2 985.1L460.8 970.4L463.3 956.3L465.8 942.7L468.3 929.9L470.9 918.2L473.4 907.8L475.9 898.9L478.4 891.7L480.9 886.3L483.5 883.0L486.0 881.9L488.5 882.8L491.0 886.1L493.6 891.8L496.1 899.6L498.6 909.4L501.1 921.2L503.7 934.7L506.2 949.6L508.7 965.9L511.2 983.1L513.8 1001.1L516.3 1019.6L518.8 1040.3L521.3 1065.1L523.9 1088.4L526.4 1106.9L528.9 1123.8L531.4 1140.1L534.0 1155.8L536.5 1170.8L539.0 1185.1L541.5 1198.3L544.0 1210.3L546.6 1221.2L549.1 1231.1L551.6 1239.6L554.1 1246.7L556.7 1252.6L559.2 1257.4L561.7 1261.3L564.2 1264.8L566.8 1267.7L569.3 1270.2L571.8 1272.4L574.3 1274.3L576.9 1276.1L579.4 1277.8L581.9 1279.4L584.4 1280.7L587.0 1282.0L589.5 1283.1L592.0 1284.2L594.5 1285.1L597.1 1285.9L599.6 1286.6L602.1 1287.2L604.6 1287.8L607.1 1288.3L609.7 1288.8L612.2 1289.2L614.7 1289.6L617.2 1289.9L619.8 1290.2L622.3 1290.5L624.8 1290.7L627.3 1290.9L629.9 1291.1L632.4 1291.3L634.9 1291.4L637.4 1291.6L640.0 1291.7L642.5 1291.8L645.0 1291.9L647.5 1292.0L650.1 1292.1L652.6 1292.2L655.1 1292.3L657.6 1292.4L660.2 1292.5L662.7 1292.6L665.2 1292.7L667.7 1292.8L670.2 1292.8L672.8 1292.9L675.3 1293.0L677.8 1293.0L680.3 1293.1L682.9 1293.2L685.4 1293.2L687.9 1293.3L690.4 1293.3L693.0 1293.4L695.5 1293.4L698.0 1293.4L700.5 1293.5L703.1 1293.5L705.6 1293.6L708.1 1293.6L710.6 1293.6L713.2 1293.7L715.7 1293.7L718.2 1293.7L720.7 1293.7L723.3 1293.8L725.8 1293.8L728.3 1293.8L730.8 1293.9L733.3 1293.9L735.9 1293.9L738.4 1294.0L740.9 1294.0L743.4 1294.0L746.0 1294.0L748.5 1294.1L751.0 1294.1L753.5 1294.1L756.1 1294.1L758.6 1294.2L761.1 1294.2L763.6 1294.2L766.2 1294.2L768.7 1294.3L771.2 1294.3L773.7 1294.3L776.3 1294.3L778.8 1294.3L781.3 1294.4L783.8 1294.4L786.4 1294.4L788.9 1294.4L791.4 1294.4L793.9 1294.4L796.4 1294.5L799.0 1294.5L801.5 1294.5L804.0 1294.5L806.5 1294.5L809.1 1294.5L811.6 1294.6L814.1 1294.6L816.6 1294.6L819.2 1294.6L821.7 1294.6L824.2 1294.6L826.7 1294.6L829.3 1294.6L831.8 1294.6L834.3 1294.6L836.8 1294.6L839.4 1294.7L841.9 1294.7L844.4 1294.7L846.9 1294.7L849.5 1294.7L852.0 1294.7L854.5 1294.7" stroke="#c24aa6"/>
<path d="M223.5 1293.9L226.0 1293.4L228.5 1292.8L231.1 1292.2L233.6 1291.6L236.1 1290.9L238.6 1290.3L241.2 1289.6L243.7 1288.9L246.2 1288.1L248.7 1287.4L251.3 1286.6L253.8 1285.8L256.3 1285.0L258.8 1284.2L261.4 1283.4L263.9 1282.5L266.4 1281.6L268.9 1280.7L271.5 1279.8L274.0 1278.8L276.5 1277.8L279.0 1276.8L281.6 1275.7L284.1 1274.6L286.6 1273.5L289.1 1272.4L291.6 1271.2L294.2 1270.0L296.7 1268.8L299.2 1267.5L301.7 1266.2L304.3 1264.8L306.8 1263.4L309.3 1261.9L311.8 1260.3L314.4 1258.7L316.9 1256.9L319.4 1255.1L321.9 1253.1L324.5 1251.0L327.0 1248.8L329.5 1246.4L332.0 1243.9L334.6 1241.2L337.1 1238.3L339.6 1235.3L342.1 1232.1L344.7 1228.5L347.2 1224.6L349.7 1220.3L352.2 1215.3L354.7 1209.5L357.3 1202.9L359.8 1196.0L362.3 1189.1L364.8 1182.3L367.4 1175.4L369.9 1168.3L372.4 1161.4L374.9 1154.8L377.5 1148.8L380.0 1143.1L382.5 1137.7L385.0 1132.6L387.6 1128.0L390.1 1124.1L392.6 1120.7L395.1 1117.7L397.7 1115.0L400.2 1112.6L402.7 1110.3L405.2 1108.1L407.8 1106.3L410.3 1104.7L412.8 1102.9L415.3 1100.8L417.8 1098.4L420.4 1095.5L422.9 1091.9L425.4 1087.0L427.9 1079.8L430.5 1071.7L433.0 1062.6L435.5 1052.5L438.0 1040.9L440.6 1027.9L443.1 1015.4L445.6 1003.7L448.1 991.7L450.7 978.2L453.2 962.9L455.7 947.6L458.2 931.6L460.8 915.3L463.3 898.9L465.8 882.8L468.3 867.3L470.9 852.8L473.4 839.5L475.9 827.9L478.4 818.4L480.9 811.3L483.5 806.8L486.0 804.8L488.5 805.9L491.0 809.5L493.6 816.0L496.1 825.2L498.6 836.8L501.1 850.8L503.7 866.8L506.2 884.6L508.7 904.0L511.2 924.6L513.8 946.2L516.3 968.5L518.8 994.7L521.3 1022.6L523.9 1047.4L526.4 1068.0L528.9 1087.5L531.4 1107.8L534.0 1128.1L536.5 1147.1L539.0 1165.3L541.5 1182.2L544.0 1197.6L546.6 1212.4L549.1 1225.8L551.6 1236.9L554.1 1246.1L556.7 1254.0L559.2 1260.2L561.7 1264.9L564.2 1268.9L566.8 1272.2L569.3 1275.1L571.8 1277.6L574.3 1279.7L576.9 1281.7L579.4 1283.5L581.9 1285.2L584.4 1286.7L587.0 1288.0L589.5 1289.2L592.0 1290.3L594.5 1291.3L597.1 1292.1L599.6 1292.9L602.1 1293.6L604.6 1294.2L607.1 1294.7L609.7 1295.2L612.2 1295.6L614.7 1296.0L617.2 1296.4L619.8 1296.6L622.3 1296.9L624.8 1297.1L627.3 1297.3L629.9 1297.4L632.4 1297.6L634.9 1297.7L637.4 1297.8L640.0 1297.8L642.5 1297.9L645.0 1298.0L647.5 1298.0L650.1 1298.1L652.6 1298.1L655.1 1298.2L657.6 1298.2L660.2 1298.2L662.7 1298.3L665.2 1298.3L667.7 1298.3L670.2 1298.3L672.8 1298.4L675.3 1298.4L677.8 1298.4L680.3 1298.4L682.9 1298.4L685.4 1298.4L687.9 1298.4L690.4 1298.4L693.0 1298.4L695.5 1298.4L698.0 1298.4L700.5 1298.5L703.1 1298.5L705.6 1298.5L708.1 1298.5L710.6 1298.5L713.2 1298.5L715.7 1298.5L718.2 1298.5L720.7 1298.5L723.3 1298.5L725.8 1298.5L728.3 1298.5L730.8 1298.5L733.3 1298.6L735.9 1298.6L738.4 1298.6L740.9 1298.6L743.4 1298.6L746.0 1298.6L748.5 1298.7L751.0 1298.7L753.5 1298.7L756.1 1298.7L758.6 1298.7L761.1 1298.7L763.6 1298.8L766.2 1298.8L768.7 1298.8L771.2 1298.8L773.7 1298.8L776.3 1298.8L778.8 1298.9L781.3 1298.9L783.8 1298.9L786.4 1298.9L788.9 1298.9L791.4 1298.9L793.9 1299.0L796.4 1299.0L799.0 1299.0L801.5 1299.0L804.0 1299.0L806.5 1299.0L809.1 1299.0L811.6 1299.0L814.1 1299.0L816.6 1299.1L819.2 1299.1L821.7 1299.1L824.2 1299.1L826.7 1299.1L829.3 1299.1L831.8 1299.1L834.3 1299.1L836.8 1299.1L839.4 1299.1L841.9 1299.1L844.4 1299.1L846.9 1299.1L849.5 1299.1L852.0 1299.1L854.5 1299.1" stroke="#ea2430"/>
<path d="M223.5 1272.5L226.0 1272.2L228.5 1271.8L231.1 1271.5L233.6 1271.1L236.1 1270.7L238.6 1270.4L241.2 1270.0L243.7 1269.6L246.2 1269.2L248.7 1268.8L251.3 1268.4L253.8 1267.9L256.3 1267.5L258.8 1267.1L261.4 1266.7L263.9 1266.2L266.4 1265.8L268.9 1265.3L271.5 1264.9L274.0 1264.4L276.5 1263.9L279.0 1263.4L281.6 1262.9L284.1 1262.4L286.6 1261.8L289.1 1261.3L291.6 1260.7L294.2 1260.0L296.7 1259.4L299.2 1258.6L301.7 1257.9L304.3 1257.1L306.8 1256.2L309.3 1255.2L311.8 1254.2L314.4 1253.2L316.9 1252.0L319.4 1250.8L321.9 1249.4L324.5 1247.9L327.0 1246.3L329.5 1244.6L332.0 1242.7L334.6 1240.7L337.1 1238.5L339.6 1236.3L342.1 1233.8L344.7 1231.1L347.2 1228.1L349.7 1224.8L352.2 1221.4L354.7 1217.8L357.3 1214.1L359.8 1210.4L362.3 1206.7L364.8 1202.7L367.4 1198.4L369.9 1193.9L372.4 1189.4L374.9 1185.2L377.5 1181.5L380.0 1177.9L382.5 1174.5L385.0 1171.4L387.6 1168.5L390.1 1166.1L392.6 1164.1L395.1 1162.4L397.7 1160.8L400.2 1159.3L402.7 1157.8L405.2 1156.3L407.8 1155.0L410.3 1153.6L412.8 1152.1L415.3 1150.3L417.8 1148.2L420.4 1145.7L422.9 1142.7L425.4 1139.4L427.9 1135.6L430.5 1131.0L433.0 1124.2L435.5 1117.2L438.0 1111.6L440.6 1106.3L443.1 1100.3L445.6 1093.6L448.1 1086.2L450.7 1078.2L453.2 1069.3L455.7 1058.9L458.2 1047.8L460.8 1035.6L463.3 1024.3L465.8 1013.7L468.3 1004.1L470.9 995.6L473.4 988.2L475.9 982.0L478.4 977.1L480.9 973.5L483.5 971.4L486.0 971.0L488.5 971.6L491.0 974.5L493.6 978.9L496.1 985.0L498.6 992.7L501.1 1001.8L503.7 1012.2L506.2 1023.7L508.7 1036.2L511.2 1049.4L513.8 1063.2L516.3 1077.2L518.8 1092.0L521.3 1112.3L523.9 1132.5L526.4 1147.8L528.9 1161.1L531.4 1173.0L534.0 1183.9L536.5 1194.5L539.0 1204.6L541.5 1213.8L544.0 1222.1L546.6 1229.1L549.1 1235.4L551.6 1241.1L554.1 1245.9L556.7 1249.6L559.2 1252.8L561.7 1255.7L564.2 1258.3L566.8 1260.5L569.3 1262.4L571.8 1264.1L574.3 1265.6L576.9 1267.0L579.4 1268.3L581.9 1269.6L584.4 1270.7L587.0 1271.7L589.5 1272.6L592.0 1273.5L594.5 1274.2L597.1 1274.9L599.6 1275.5L602.1 1276.1L604.6 1276.6L607.1 1277.1L609.7 1277.5L612.2 1278.0L614.7 1278.4L617.2 1278.8L619.8 1279.2L622.3 1279.5L624.8 1279.9L627.3 1280.2L629.9 1280.5L632.4 1280.9L634.9 1281.2L637.4 1281.5L640.0 1281.8L642.5 1282.1L645.0 1282.5L647.5 1282.8L650.1 1283.1L652.6 1283.4L655.1 1283.7L657.6 1284.0L660.2 1284.3L662.7 1284.6L665.2 1284.9L667.7 1285.2L670.2 1285.5L672.8 1285.7L675.3 1286.0L677.8 1286.2L680.3 1286.5L682.9 1286.7L685.4 1286.9L687.9 1287.1L690.4 1287.3L693.0 1287.5L695.5 1287.6L698.0 1287.8L700.5 1288.0L703.1 1288.1L705.6 1288.3L708.1 1288.4L710.6 1288.5L713.2 1288.6L715.7 1288.7L718.2 1288.8L720.7 1288.9L723.3 1289.0L725.8 1289.1L728.3 1289.2L730.8 1289.3L733.3 1289.3L735.9 1289.4L738.4 1289.5L740.9 1289.5L743.4 1289.6L746.0 1289.6L748.5 1289.7L751.0 1289.7L753.5 1289.8L756.1 1289.8L758.6 1289.9L761.1 1289.9L763.6 1289.9L766.2 1290.0L768.7 1290.0L771.2 1290.1L773.7 1290.1L776.3 1290.1L778.8 1290.1L781.3 1290.2L783.8 1290.2L786.4 1290.2L788.9 1290.3L791.4 1290.3L793.9 1290.3L796.4 1290.3L799.0 1290.4L801.5 1290.4L804.0 1290.4L806.5 1290.4L809.1 1290.5L811.6 1290.5L814.1 1290.5L816.6 1290.5L819.2 1290.5L821.7 1290.6L824.2 1290.6L826.7 1290.6L829.3 1290.6L831.8 1290.6L834.3 1290.6L836.8 1290.7L839.4 1290.7L841.9 1290.7L844.4 1290.7L846.9 1290.7L849.5 1290.7L852.0 1290.7L854.5 1290.7" stroke="#7ec42e"/>
</g>
<line x1="630.3" y1="936" x2="630.3" y2="1163" stroke="#999" stroke-width="2.2"/>
<path d="M626.9 1161 L633.7 1161 L630.3 1171 Z" fill="#222"/>
<text class="ser" transform="translate(0.50,76.50)" font-size="55.50" text-anchor="start">(a)</text>
<text class="ser" transform="translate(211.40,105.00) scale(0.850,1.000)" font-size="38.70" text-anchor="start" letter-spacing="4.30" stroke="#111" stroke-width="1">Compound 1</text>
<text class="ser" transform="translate(719.00,118.30) scale(1.000,1.100)" font-size="40.50" text-anchor="middle">RhB</text>
<text class="ser" transform="translate(580.00,157.70) scale(1.000,1.100)" font-size="40.10" text-anchor="start">reaction time /min</text>
<text class="ser" transform="translate(654.25,209.50) scale(1.000,1.070)" font-size="38.50" text-anchor="middle">0</text>
<text class="ser" transform="translate(650.80,258.90) scale(1.000,1.070)" font-size="38.50" text-anchor="middle">30</text>
<text class="ser" transform="translate(651.00,308.50) scale(1.000,1.070)" font-size="38.50" text-anchor="middle">60</text>
<text class="ser" transform="translate(651.00,357.00) scale(1.000,1.070)" font-size="38.50" text-anchor="middle">90</text>
<text class="ser" transform="translate(661.75,405.00) scale(1.000,1.070)" font-size="38.50" text-anchor="middle">120</text>
<text class="ser" transform="translate(48.30,336.00) rotate(-90) scale(1.000,1.080)" font-size="46.20" text-anchor="middle">Absorbance</text>
<text class="ser" transform="translate(533.75,718.80) scale(1.000,1.110)" font-size="44.25" text-anchor="middle">Wavelength (nm)</text>
<text class="ser" transform="translate(211.00,851.50) scale(0.850,1.000)" font-size="38.70" text-anchor="start" letter-spacing="4.60" stroke="#111" stroke-width="1">Compound 2</text>
<text class="ser" transform="translate(695.70,870.40) scale(1.000,1.100)" font-size="40.50" text-anchor="middle">RhB</text>
<text class="ser" transform="translate(596.00,910.90) scale(1.000,1.100)" font-size="40.30" text-anchor="start">reaction time /min</text>
<text class="ser" transform="translate(670.90,964.00) scale(1.000,1.070)" font-size="38.50" text-anchor="middle">0</text>
<text class="ser" transform="translate(667.60,1014.00) scale(1.000,1.070)" font-size="38.50" text-anchor="middle">30</text>
<text class="ser" transform="translate(668.20,1062.50) scale(1.000,1.070)" font-size="38.50" text-anchor="middle">60</text>
<text class="ser" transform="translate(668.20,1113.00) scale(1.000,1.070)" font-size="38.50" text-anchor="middle">90</text>
<text class="ser" transform="translate(679.50,1162.00) scale(1.000,1.070)" font-size="38.50" text-anchor="middle">120</text>
<text class="ser" transform="translate(55.80,1053.30) rotate(-90) scale(1.000,1.064)" font-size="55.30" text-anchor="middle">Absorbance</text>
<text class="ser" transform="translate(538.00,1465.90) scale(1.000,1.080)" font-size="44.25" text-anchor="middle">Wavelength (nm)</text>
<text class="ser" transform="translate(15.00,1503.50) scale(1.000,1.040)" font-size="53.70" text-anchor="start">(b)</text>
<rect x="172.5" y="1506.9" width="714.0" height="584.5" fill="none" stroke="#3c3c3c" stroke-width="2.5"/>
<line x1="171.3" y1="1508.0" x2="887.7" y2="1508.0" stroke="#444" stroke-width="3.4"/>
<line x1="166.5" y1="2091.4" x2="172.5" y2="2091.4" stroke="#3c3c3c" stroke-width="2.5"/>
<line x1="161.5" y1="2057.0" x2="172.5" y2="2057.0" stroke="#3c3c3c" stroke-width="2.5"/>
<text class="tb" text-anchor="end" transform="translate(154.5,2067.3) scale(1,1.05)">0.65</text>
<line x1="166.5" y1="2022.6" x2="172.5" y2="2022.6" stroke="#3c3c3c" stroke-width="2.5"/>
<line x1="161.5" y1="1988.3" x2="172.5" y2="1988.3" stroke="#3c3c3c" stroke-width="2.5"/>
<text class="tb" text-anchor="end" transform="translate(154.5,1998.6) scale(1,1.05)">0.70</text>
<line x1="166.5" y1="1953.9" x2="172.5" y2="1953.9" stroke="#3c3c3c" stroke-width="2.5"/>
<line x1="161.5" y1="1919.5" x2="172.5" y2="1919.5" stroke="#3c3c3c" stroke-width="2.5"/>
<text class="tb" text-anchor="end" transform="translate(154.5,1929.8) scale(1,1.05)">0.75</text>
<line x1="166.5" y1="1885.1" x2="172.5" y2="1885.1" stroke="#3c3c3c" stroke-width="2.5"/>
<line x1="161.5" y1="1850.7" x2="172.5" y2="1850.7" stroke="#3c3c3c" stroke-width="2.5"/>
<text class="tb" text-anchor="end" transform="translate(154.5,1861.0) scale(1,1.05)">0.80</text>
<line x1="166.5" y1="1816.4" x2="172.5" y2="1816.4" stroke="#3c3c3c" stroke-width="2.5"/>
<line x1="161.5" y1="1782.0" x2="172.5" y2="1782.0" stroke="#3c3c3c" stroke-width="2.5"/>
<text class="tb" text-anchor="end" transform="translate(154.5,1792.3) scale(1,1.05)">0.85</text>
<line x1="166.5" y1="1747.6" x2="172.5" y2="1747.6" stroke="#3c3c3c" stroke-width="2.5"/>
<line x1="161.5" y1="1713.2" x2="172.5" y2="1713.2" stroke="#3c3c3c" stroke-width="2.5"/>
<text class="tb" text-anchor="end" transform="translate(154.5,1723.5) scale(1,1.05)">0.90</text>
<line x1="166.5" y1="1678.8" x2="172.5" y2="1678.8" stroke="#3c3c3c" stroke-width="2.5"/>
<line x1="161.5" y1="1644.5" x2="172.5" y2="1644.5" stroke="#3c3c3c" stroke-width="2.5"/>
<text class="tb" text-anchor="end" transform="translate(154.5,1654.8) scale(1,1.05)">0.95</text>
<line x1="166.5" y1="1610.1" x2="172.5" y2="1610.1" stroke="#3c3c3c" stroke-width="2.5"/>
<line x1="161.5" y1="1575.7" x2="172.5" y2="1575.7" stroke="#3c3c3c" stroke-width="2.5"/>
<text class="tb" text-anchor="end" transform="translate(154.5,1586.0) scale(1,1.05)">1.00</text>
<line x1="166.5" y1="1541.3" x2="172.5" y2="1541.3" stroke="#3c3c3c" stroke-width="2.5"/>
<line x1="161.5" y1="1506.9" x2="172.5" y2="1506.9" stroke="#3c3c3c" stroke-width="2.5"/>
<text class="tb" text-anchor="end" transform="translate(154.5,1517.2) scale(1,1.05)">1.05</text>
<line x1="172.5" y1="2091.4" x2="172.5" y2="2097.4" stroke="#3c3c3c" stroke-width="2.5"/>
<line x1="223.5" y1="2091.4" x2="223.5" y2="2102.4" stroke="#3c3c3c" stroke-width="2.5"/>
<text class="tb" text-anchor="middle" transform="translate(223.5,2136.5) scale(1,1.05)">0</text>
<line x1="274.5" y1="2091.4" x2="274.5" y2="2097.4" stroke="#3c3c3c" stroke-width="2.5"/>
<line x1="325.5" y1="2091.4" x2="325.5" y2="2102.4" stroke="#3c3c3c" stroke-width="2.5"/>
<text class="tb" text-anchor="middle" transform="translate(325.5,2136.5) scale(1,1.05)">20</text>
<line x1="376.5" y1="2091.4" x2="376.5" y2="2097.4" stroke="#3c3c3c" stroke-width="2.5"/>
<line x1="427.5" y1="2091.4" x2="427.5" y2="2102.4" stroke="#3c3c3c" stroke-width="2.5"/>
<text class="tb" text-anchor="middle" transform="translate(427.5,2136.5) scale(1,1.05)">40</text>
<line x1="478.5" y1="2091.4" x2="478.5" y2="2097.4" stroke="#3c3c3c" stroke-width="2.5"/>
<line x1="529.5" y1="2091.4" x2="529.5" y2="2102.4" stroke="#3c3c3c" stroke-width="2.5"/>
<text class="tb" text-anchor="middle" transform="translate(529.5,2136.5) scale(1,1.05)">60</text>
<line x1="580.5" y1="2091.4" x2="580.5" y2="2097.4" stroke="#3c3c3c" stroke-width="2.5"/>
<line x1="631.5" y1="2091.4" x2="631.5" y2="2102.4" stroke="#3c3c3c" stroke-width="2.5"/>
<text class="tb" text-anchor="middle" transform="translate(631.5,2136.5) scale(1,1.05)">80</text>
<line x1="682.5" y1="2091.4" x2="682.5" y2="2097.4" stroke="#3c3c3c" stroke-width="2.5"/>
<line x1="733.5" y1="2091.4" x2="733.5" y2="2102.4" stroke="#3c3c3c" stroke-width="2.5"/>
<text class="tb" text-anchor="middle" transform="translate(733.5,2136.5) scale(1,1.05)">100</text>
<line x1="784.5" y1="2091.4" x2="784.5" y2="2097.4" stroke="#3c3c3c" stroke-width="2.5"/>
<line x1="835.5" y1="2091.4" x2="835.5" y2="2102.4" stroke="#3c3c3c" stroke-width="2.5"/>
<text class="tb" text-anchor="middle" transform="translate(835.5,2136.5) scale(1,1.05)">120</text>
<line x1="886.5" y1="2091.4" x2="886.5" y2="2097.4" stroke="#3c3c3c" stroke-width="2.5"/>
<polyline points="223.5,1575.7 376.5,1711.8 529.5,1827.4 682.5,1956.6 835.5,2010.7" fill="none" stroke="#2a2a2a" stroke-width="2.3"/>
<polyline points="223.5,1575.7 376.5,1692.6 529.5,1788.9 682.5,1919.5 835.5,2042.4" fill="none" stroke="#e8101c" stroke-width="2.3"/>
<rect x="218.5" y="1570.7" width="10" height="10" fill="#111"/><rect x="371.5" y="1706.8" width="10" height="10" fill="#111"/><rect x="524.5" y="1822.4" width="10" height="10" fill="#111"/><rect x="677.5" y="1951.6" width="10" height="10" fill="#111"/><rect x="830.5" y="2005.7" width="10" height="10" fill="#111"/><circle cx="223.5" cy="1575.7" r="6" fill="#e8101c"/><circle cx="376.5" cy="1692.6" r="6" fill="#e8101c"/><circle cx="529.5" cy="1788.9" r="6" fill="#e8101c"/><circle cx="682.5" cy="1919.5" r="6" fill="#e8101c"/><circle cx="835.5" cy="2042.4" r="6" fill="#e8101c"/>
<rect x="551.4" y="1584.8" width="299.2" height="98.6" rx="3" fill="#777"/><rect x="550.4" y="1583.8" width="299.2" height="98.6" rx="3" fill="#fff" stroke="#888" stroke-width="2"/>
<line x1="573.6" y1="1612.6" x2="652.4" y2="1612.6" stroke="#333" stroke-width="2.5"/>
<rect x="607.2" y="1607.1" width="11" height="11" rx="1" fill="#111"/>
<text class="sans" transform="translate(661.6,1623.6) scale(0.99,1.05)" font-size="32.2" fill="#333" stroke="#333" stroke-width="0.45">compound <tspan font-weight="bold" fill="#111" stroke="none">1</tspan></text>
<line x1="573.6" y1="1653" x2="652.4" y2="1653" stroke="#e8101c" stroke-width="2.5"/>
<circle cx="612.7" cy="1653" r="7" fill="#e8101c"/>
<text class="sans" transform="translate(661.6,1665.2) scale(0.99,1.05)" font-size="32.2" fill="#333" stroke="#333" stroke-width="0.45">compound <tspan font-weight="bold" fill="#111" stroke="none">2</tspan></text>
<text class="sans" transform="translate(530.25,2194.4) scale(0.905,1)" font-size="33" font-weight="bold" fill="#222" text-anchor="middle">reaction time (min)</text>
<text class="sans" transform="translate(61.5,1817.7) rotate(-90)" font-size="33" fill="#222" stroke="#222" stroke-width="0.8" text-anchor="middle">C/C<tspan font-size="20.5" dy="8.5">0</tspan><tspan dy="-8.5"> (RhB)</tspan></text>
</svg>
</div>
</body></html>
